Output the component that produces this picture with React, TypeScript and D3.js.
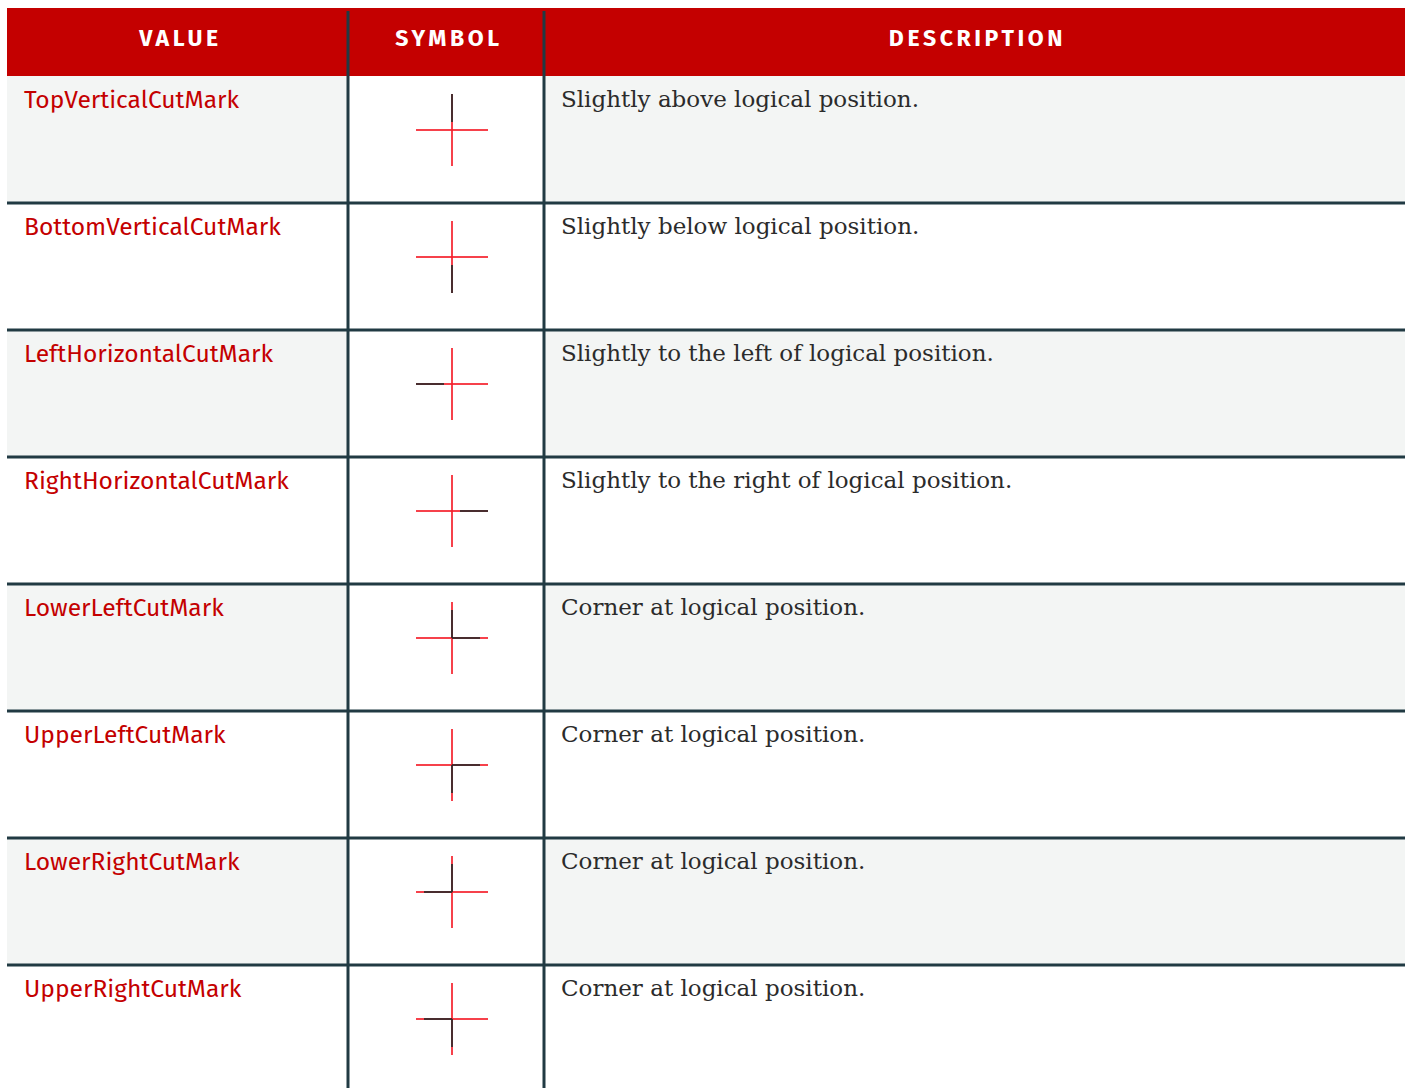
import * as d3 from 'd3';

const columns = ['VALUE', 'SYMBOL', 'DESCRIPTION'];

const values = [
  'TopVerticalCutMark',
  'BottomVerticalCutMark',
  'LeftHorizontalCutMark',
  'RightHorizontalCutMark',
  'LowerLeftCutMark',
  'UpperLeftCutMark',
  'LowerRightCutMark',
  'UpperRightCutMark',
];

const descriptions = [
  'Slightly above logical position.',
  'Slightly below logical position.',
  'Slightly to the left of logical position.',
  'Slightly to the right of logical position.',
  'Corner at logical position.',
  'Corner at logical position.',
  'Corner at logical position.',
  'Corner at logical position.',
];

// which arms of the crosshair are drawn dark
const darkArms: string[][] = [
  ['top'],
  ['bottom'],
  ['left'],
  ['right'],
  ['top', 'right'],
  ['bottom', 'right'],
  ['top', 'left'],
  ['bottom', 'left'],
];

const W = 1405;
const H = 1088;
const left = 7;
const headerTop = 8;
const headerBottom = 76;
const rowH = 127;
const colEdges = [left, 348, 544, W];

const RED = '#c40000';
const GRID = '#213a43';
const STRIPE = '#f3f5f4';
const SANS = '"Fira Sans", "Open Sans", "Noto Sans", sans-serif';
const SERIF = '"DejaVu Serif", serif';

const armDir: Record<string, [number, number]> = {
  top: [0, -1],
  bottom: [0, 1],
  left: [-1, 0],
  right: [1, 0],
};

const Mark = ({ cx, cy, arms }: { cx: number; cy: number; arms: string[] }) => {
  const r = 36;
  const corner = arms.length > 1;
  return (
    <g>
      <line x1={cx - r} x2={cx + r} y1={cy} y2={cy} stroke="#f4202c" strokeWidth={2} strokeOpacity={0.85} />
      <line x1={cx} x2={cx} y1={cy - r} y2={cy + r} stroke="#f4202c" strokeWidth={2} strokeOpacity={0.85} />
      {arms.map(a => {
        const [dx, dy] = armDir[a];
        const from = corner ? 0 : 8;
        const to = corner ? 28 : r;
        return (
          <line
            key={a}
            x1={cx + dx * from}
            y1={cy + dy * from}
            x2={cx + dx * to}
            y2={cy + dy * to}
            stroke="#2a2a2a"
            strokeWidth={2}
            strokeOpacity={0.85}
          />
        );
      })}
    </g>
  );
};

export default function App() {
  const y = d3
    .scaleBand<number>()
    .domain(d3.range(values.length))
    .range([headerBottom, headerBottom + rowH * values.length])
    .paddingInner(0)
    .paddingOuter(0);

  const symbolX = (colEdges[1] + colEdges[2]) / 2 + 6;

  return (
    <svg
      width={W}
      height={H}
      style={{ position: 'absolute', left: 0, top: 0, background: '#fff' }}
    >
      {/* header */}
      <rect x={left} y={headerTop} width={W - left} height={headerBottom - headerTop} fill={RED} />
      {columns.map((c, i) => (
        <text
          key={c}
          x={(colEdges[i] + colEdges[i + 1]) / 2 + 3}
          y={46}
          textAnchor="middle"
          fill="#fff"
          fontFamily={SANS}
          fontWeight={700}
          fontSize={23}
          letterSpacing={3.6}
        >
          {c}
        </text>
      ))}

      {/* rows */}
      {values.map((v, i) => {
        const top = y(i) as number;
        const striped = i % 2 === 0;
        return (
          <g key={v}>
            {striped && (
              <>
                <rect x={colEdges[0]} y={top} width={colEdges[1] - colEdges[0]} height={rowH} fill={STRIPE} />
                <rect x={colEdges[2]} y={top} width={colEdges[3] - colEdges[2]} height={rowH} fill={STRIPE} />
              </>
            )}
            <text x={24} y={top + 32} fill={RED} fontFamily={SANS} fontSize={24.6}>
              {v}
            </text>
            <Mark cx={symbolX} cy={top + 54} arms={darkArms[i]} />
            <text x={561} y={top + 31} fill="#2b2b2b" fontFamily={SERIF} fontSize={23}>
              {descriptions[i]}
            </text>
          </g>
        );
      })}

      {/* grid lines */}
      {values.slice(1).map((_, i) => (
        <line
          key={'h' + i}
          x1={left}
          x2={W}
          y1={(y(i + 1) as number)}
          y2={(y(i + 1) as number)}
          stroke={GRID}
          strokeWidth={3}
        />
      ))}
      {colEdges.slice(1, 3).map(x => (
        <line key={'v' + x} x1={x} x2={x} y1={11} y2={H} stroke={GRID} strokeWidth={3} />
      ))}
    </svg>
  );
}
